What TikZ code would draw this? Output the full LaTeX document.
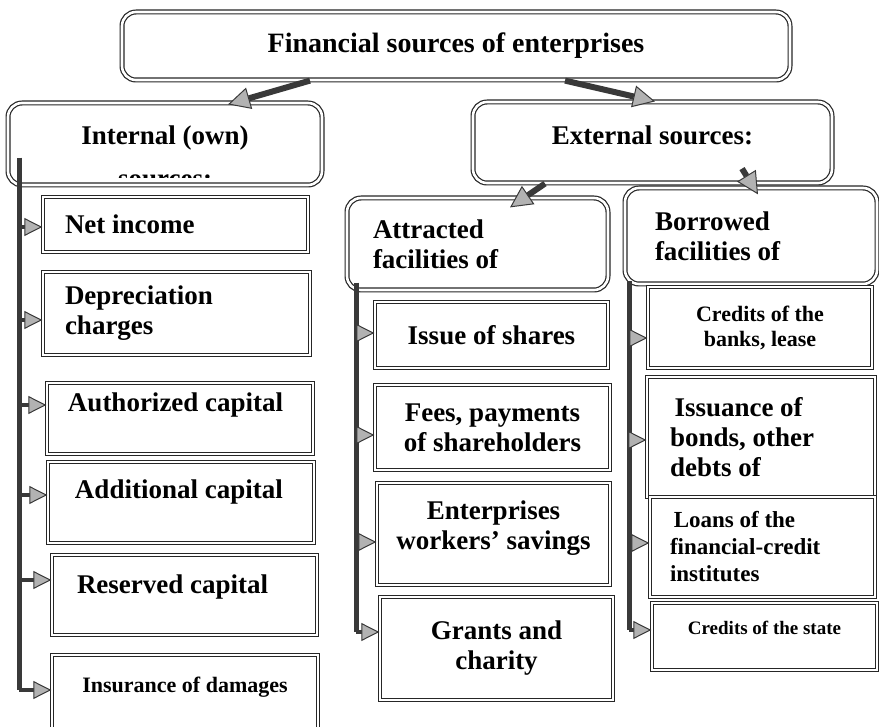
\documentclass[tikz,border=0pt]{standalone}
\usepackage{fontspec}
\setmainfont{Liberation Serif}
\usetikzlibrary{arrows.meta}
\begin{document}
\begin{tikzpicture}[x=0.5pt,y=-0.5pt]
    \tikzstyle{head}=[draw=black!85, line width=0.6pt, double, double distance=1.3pt, rounded corners=7pt, inner sep=0pt, font=\fontsize{13.5}{15}\selectfont\bfseries]
    \tikzstyle{item}=[draw=black!85, line width=0.7pt, double, double distance=1pt, inner sep=0pt, font=\fontsize{13.5}{15}\selectfont\bfseries]
    \tikzstyle{trunk}=[draw=gray!45!black, line width=2.5pt]
    \tikzstyle{feed}=[draw=gray!45!black, line width=2pt, -{Triangle[length=9pt,width=9pt,line width=0.5pt,fill=gray!60]}]
    \tikzstyle{lead}=[draw=gray!45!black, line width=3pt, -{Triangle[length=11pt,width=11pt,line width=0.5pt,fill=gray!60]}]
    \useasboundingbox (0,0) rectangle (879,727);

    % top level
    \node[head, minimum width=334pt, minimum height=34pt, font=\fontsize{14}{16}\selectfont\bfseries] (title) at (456,46) {Financial sources of enterprises};
    \node[head, minimum width=157pt, minimum height=41pt, text depth=9pt] (internal) at (165,144) {Internal (own)};
    \begin{scope}
        \clip (10,150) rectangle (320,178);
        \node[font=\fontsize{13.5}{15}\selectfont\bfseries, anchor=base] (sources) at (165,188) {sources:};
    \end{scope}
    \node[head, minimum width=179.5pt, minimum height=40.5pt, text depth=7.5pt] (external) at (652.5,142.5) {External sources:};
    \node[head, minimum width=130.5pt, minimum height=46pt, inner xsep=13pt, text width=104.5pt, align=flush left] (attracted) at (477.5,244) {Attracted\\facilities of};
    \node[head, minimum width=126pt, minimum height=48pt, inner xsep=15pt, text width=96pt, align=flush left] (borrowed) at (751,236) {Borrowed\\facilities of};

    % internal sources
    \node[item, minimum width=132.5pt, minimum height=27.5pt, inner xsep=11pt, text width=110.5pt, align=flush left] (netinc) at (175.5,224.5) {Net income};
    \node[item, minimum width=133.5pt, minimum height=41.5pt, inner xsep=11pt, text width=111.5pt, align=flush left] (deprec) at (176.5,313.5) {Depreciation\\charges};
    \node[item, minimum width=133pt, minimum height=35.5pt, inner xsep=10.5pt, text width=112pt, align=flush left, text depth=16.5pt] (authcap) at (180,418.5) {Authorized capital};
    \node[item, minimum width=133pt, minimum height=40.5pt, inner xsep=13.5pt, text width=106pt, align=flush left, text depth=13pt] (addcap) at (181,502.5) {Additional capital};
    \node[item, minimum width=132.5pt, minimum height=40pt, inner xsep=12.5pt, text width=107.5pt, align=flush left, text depth=11pt] (rescap) at (184.5,595) {Reserved capital};
    \node[item, minimum width=133pt, minimum height=42.5pt, text depth=12.5pt, font=\fontsize{11}{13}\selectfont\bfseries] (insur) at (185,697.5) {Insurance of damages};

    % attracted facilities
    \node[item, minimum width=116.5pt, minimum height=33pt] (shares) at (491.5,335) {Issue of shares};
    \node[item, minimum width=117.5pt, minimum height=42.5pt, align=center] (fees) at (492.5,427.5) {Fees, payments\\of shareholders};
    \node[item, minimum width=116.5pt, minimum height=51pt, align=center, text depth=9pt] (savings) at (493.5,534) {Enterprises\\workers’ savings};
    \node[item, minimum width=116.5pt, minimum height=51.5pt, align=center] (grants) at (496.5,648.5) {Grants and\\charity};

    % borrowed facilities
    \node[item, minimum width=112pt, minimum height=40.5pt, align=center, font=\fontsize{11}{12.5}\selectfont\bfseries] (banks) at (760,327.5) {Credits of the\\banks, lease};
    \node[item, minimum width=114pt, minimum height=60pt, inner xsep=11.5pt, text width=91pt, align=flush left] (bonds) at (761,437) {\,Issuance of\\bonds, other\\debts of};
    \node[item, minimum width=112.5pt, minimum height=50pt, inner xsep=10pt, text width=92.5pt, align=flush left, font=\fontsize{11.5}{13.5}\selectfont\bfseries] (loans) at (762.5,547) {\,Loans of the\\financial-credit\\institutes};
    \node[item, minimum width=112.5pt, minimum height=33.5pt, text depth=9pt, font=\fontsize{9.5}{11}\selectfont\bfseries] (state) at (764.5,636.5) {Credits of the state};

    % arrows from the top
    \draw[lead] ([xshift=-73pt]title.south) -- ([xshift=31.5pt,yshift=-1pt]internal.north);
    \draw[lead] ([xshift=54.5pt]title.south) -- ([xshift=1.25pt]external.north);
    \draw[lead] ([xshift=-53.75pt]external.south) -- ([xshift=16.25pt,yshift=-5pt]attracted.north);
    \draw[lead] ([xshift=44.75pt,yshift=7.5pt]external.south) -- ([xshift=3.5pt,yshift=-3.5pt]borrowed.north);

    % trunks
    \coordinate (ltop) at ([xshift=6pt,yshift=14pt]internal.south west);
    \coordinate (mtop) at ([xshift=5pt,yshift=4pt]attracted.south west);
    \coordinate (rtop) at ([xshift=2.5pt,yshift=2pt]borrowed.south west);
    \draw[trunk] (ltop) -- ([yshift=3.75pt]insur.west -| ltop);
    \draw[trunk] (mtop) -- ([yshift=8.25pt]grants.west -| mtop);
    \draw[trunk] (rtop) -- ([yshift=3.25pt]state.west -| rtop);

    \draw[feed] ([yshift=-1.25pt]netinc.west -| ltop) -- ([yshift=-1.25pt]netinc.west);
    \draw[feed] ([yshift=-3.25pt]deprec.west -| ltop) -- ([yshift=-3.25pt]deprec.west);
    \draw[feed] ([yshift=6.75pt]authcap.west -| ltop) -- ([yshift=6.75pt]authcap.west);
    \draw[feed] ([yshift=3.75pt]addcap.west -| ltop) -- ([yshift=3.75pt]addcap.west);
    \draw[feed] ([yshift=7.5pt]rescap.west -| ltop) -- ([yshift=7.5pt]rescap.west);
    \draw[feed] ([yshift=3.75pt]insur.west -| ltop) -- ([yshift=3.75pt]insur.west);

    \draw[feed] ([yshift=1pt]shares.west -| mtop) -- ([yshift=1pt]shares.west);
    \draw[feed] ([yshift=-3.75pt]fees.west -| mtop) -- ([yshift=-3.75pt]fees.west);
    \draw[feed] ([yshift=-4pt]savings.west -| mtop) -- ([yshift=-4pt]savings.west);
    \draw[feed] ([yshift=8.25pt]grants.west -| mtop) -- ([yshift=8.25pt]grants.west);

    \draw[feed] ([yshift=-5.25pt]banks.west -| rtop) -- ([yshift=-5.25pt]banks.west);
    \draw[feed] ([yshift=-1.5pt]bonds.west -| rtop) -- ([yshift=-1.5pt]bonds.west);
    \draw[feed] ([yshift=2pt]loans.west -| rtop) -- ([yshift=2pt]loans.west);
    \draw[feed] ([yshift=3.25pt]state.west -| rtop) -- ([yshift=3.25pt]state.west);

\end{tikzpicture}
\end{document}
